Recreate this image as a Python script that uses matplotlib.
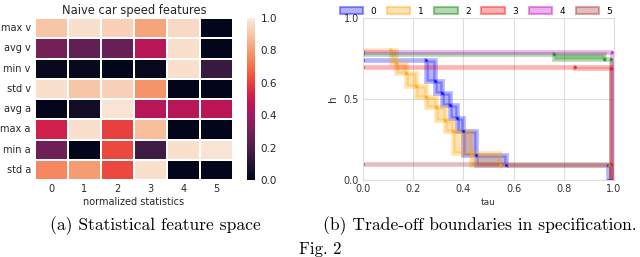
import numpy as np
import matplotlib as mpl
mpl.use('Agg')
import matplotlib.pyplot as plt
from matplotlib.patches import Rectangle, Patch
import seaborn as sns

# heatmap data (rows: features, cols: normalized statistics)
row_labels = ['max v', 'avg v', 'min v', 'std v', 'avg a', 'max a', 'min a', 'std a']
col_labels = ['0', '1', '2', '3', '4', '5']
heat = np.array([
    [0.90, 0.97, 0.93, 0.82, 0.95, 0.00],
    [0.30, 0.25, 0.27, 0.45, 0.97, 0.00],
    [0.02, 0.02, 0.00, 0.02, 0.97, 0.15],
    [0.97, 0.90, 0.93, 0.78, 0.00, 0.00],
    [0.00, 0.05, 0.98, 0.45, 0.45, 0.46],
    [0.52, 0.97, 0.60, 0.88, 0.00, 0.00],
    [0.28, 0.00, 0.62, 0.17, 0.97, 0.98],
    [0.75, 0.80, 0.62, 0.97, 0.00, 0.00],
])

# trade-off boundaries: (tau, h) corner points per class
tau_0 = [0.0, 0.25, 0.285, 0.315, 0.345, 0.375, 0.40, 0.45, 0.57, 0.975, 0.975]
h_0 = [0.74, 0.74, 0.61, 0.54, 0.46, 0.38, 0.30, 0.155, 0.09, 0.09, 0.0]
tau_1 = [0.0, 0.11, 0.13, 0.17, 0.21, 0.25, 0.29, 0.325, 0.36, 0.43, 0.545, 0.98]
h_1 = [0.80, 0.80, 0.72, 0.66, 0.58, 0.51, 0.45, 0.37, 0.30, 0.165, 0.095, 0.095]
tau_2 = [0.0, 0.76, 0.96, 0.99, 0.99]
h_2 = [0.775, 0.775, 0.745, 0.745, 0.0]
tau_3 = [0.0, 0.845, 0.99, 0.99]
h_3 = [0.70, 0.70, 0.69, 0.0]
tau_4 = [0.0, 0.993, 0.993]
h_4 = [0.79, 0.79, 0.0]
tau_5 = [0.0, 0.99, 0.99]
h_5 = [0.10, 0.10, 0.0]

series = [(tau_0, h_0, 'blue'), (tau_1, h_1, 'orange'), (tau_2, h_2, 'green'),
          (tau_3, h_3, 'red'), (tau_4, h_4, 'm'), (tau_5, h_5, 'brown')]

fig = plt.figure(figsize=(6.4, 2.57), dpi=100)

# ---- left: heatmap ----
ax1 = fig.add_axes([35/640, 77/257, 198/640, 162/257])
cax = fig.add_axes([247/640, 77/257, 8/640, 162/257])
sns.heatmap(heat, ax=ax1, cbar_ax=cax, cmap='rocket', vmin=0, vmax=1,
            linewidths=1.2, linecolor='white',
            xticklabels=col_labels, yticklabels=row_labels)
ax1.set_title('Naive car speed features', fontsize=8.3, pad=3, color='#262626')
ax1.set_xlabel('normalized statistics', fontsize=7, labelpad=2, color='#262626')
ax1.tick_params(length=0, labelsize=7, pad=3, colors='#262626')
ax1.set_yticklabels(row_labels, rotation=0)
cax.tick_params(length=0, labelsize=7.5, pad=4, colors='#262626')
cax.set_yticks([0, 0.2, 0.4, 0.6, 0.8, 1.0])
cax.set_yticklabels(['0.0', '0.2', '0.4', '0.6', '0.8', '1.0'])

# ---- right: trade-off boundaries ----
ax2 = fig.add_axes([363/640, 77/257, 251/640, 162/257])
for tau, h, c in series:
    for i in range(len(tau) - 1):
        x0, x1 = sorted([tau[i], tau[i + 1]])
        y0, y1 = sorted([h[i], h[i + 1]])
        ax2.add_patch(Rectangle((x0, y0), x1 - x0, y1 - y0,
                                facecolor=mpl.colors.to_rgba(c, 0.3),
                                edgecolor=mpl.colors.to_rgba(c, 0.3), lw=3.3))
    ax2.plot(tau, h, '.', color=c, ms=2.5, alpha=0.6)

ax2.set_xlim(0, 1)
ax2.set_ylim(0, 1)
ax2.set_xticks([0, 0.2, 0.4, 0.6, 0.8, 1.0])
ax2.set_yticks([0, 0.5, 1.0])
ax2.grid(True, color='#dddddd', lw=0.8)
ax2.set_axisbelow(True)
for s in ax2.spines.values():
    s.set_color('#dddddd')
ax2.tick_params(length=0, labelsize=7, pad=3, colors='#333333')
ax2.set_xlabel('tau', fontsize=6.5, labelpad=3, color='#333333')
ax2.set_ylabel('h', fontsize=7.5, labelpad=4, color='#333333')

handles = [Patch(facecolor=mpl.colors.to_rgba(c, 0.3), edgecolor=mpl.colors.to_rgba(c, 0.4), lw=1.5)
           for _, _, c in series]
ax2.legend(handles, [str(i) for i in range(6)], ncol=6, frameon=False, fontsize=6.5,
           loc='lower center', bbox_to_anchor=(0.45, 0.98), handlelength=2.6, handleheight=0.8,
           columnspacing=1.2, handletextpad=0.8, borderpad=0.1)

# ---- captions ----
fig.text(155/640, 1 - 226/257, '(a) Statistical feature space', fontsize=12.6,
         family='cmr10', ha='center', va='center')
fig.text(480/640, 1 - 226/257, '(b) Trade-off boundaries in specification.', fontsize=12.6,
         family='cmr10', ha='center', va='center')
fig.text(0.5, 1 - 242/257, 'Fig. 2', fontsize=12, family='cmr10', ha='center', va='top')

fig.savefig('out.png', dpi=100)
